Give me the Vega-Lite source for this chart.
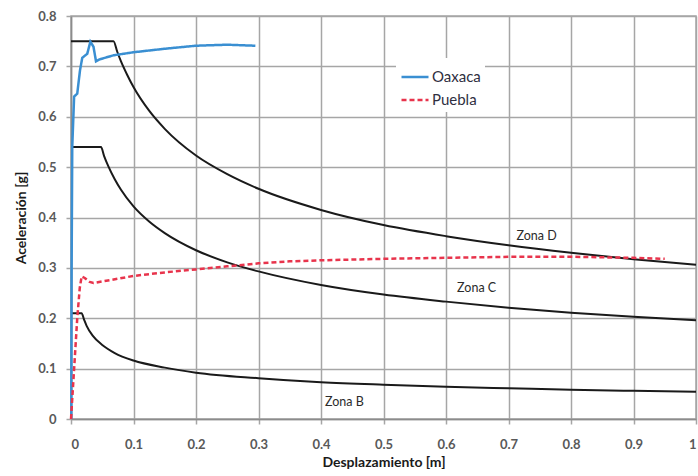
{
  "$schema": "https://vega.github.io/schema/vega-lite/v6.json",
  "width": 625,
  "height": 403,
  "autosize": {"type": "none"},
  "padding": {"left": 71, "top": 16, "right": 2, "bottom": 57},
  "background": "white",
  "datasets": {
    "zones": [
      {"zona": "D", "x": 0, "y": 0.75}, {"zona": "D", "x": 0.068, "y": 0.75}, {"zona": "D", "x": 0.074, "y": 0.729}, {"zona": "D", "x": 0.08, "y": 0.71}, {"zona": "D", "x": 0.09, "y": 0.683}, {"zona": "D", "x": 0.1, "y": 0.659}, {"zona": "D", "x": 0.125, "y": 0.612}, {"zona": "D", "x": 0.15, "y": 0.576}, {"zona": "D", "x": 0.2, "y": 0.523}, {"zona": "D", "x": 0.25, "y": 0.486}, {"zona": "D", "x": 0.3, "y": 0.457}, {"zona": "D", "x": 0.4, "y": 0.415}, {"zona": "D", "x": 0.5, "y": 0.385}, {"zona": "D", "x": 0.6, "y": 0.363}, {"zona": "D", "x": 0.7, "y": 0.345}, {"zona": "D", "x": 0.8, "y": 0.33}, {"zona": "D", "x": 0.9, "y": 0.317}, {"zona": "D", "x": 1, "y": 0.306},
      {"zona": "C", "x": 0, "y": 0.54}, {"zona": "C", "x": 0.048, "y": 0.54}, {"zona": "C", "x": 0.053, "y": 0.522}, {"zona": "C", "x": 0.06, "y": 0.501}, {"zona": "C", "x": 0.07, "y": 0.476}, {"zona": "C", "x": 0.08, "y": 0.455}, {"zona": "C", "x": 0.1, "y": 0.422}, {"zona": "C", "x": 0.125, "y": 0.392}, {"zona": "C", "x": 0.15, "y": 0.369}, {"zona": "C", "x": 0.2, "y": 0.335}, {"zona": "C", "x": 0.25, "y": 0.311}, {"zona": "C", "x": 0.3, "y": 0.293}, {"zona": "C", "x": 0.4, "y": 0.266}, {"zona": "C", "x": 0.5, "y": 0.247}, {"zona": "C", "x": 0.6, "y": 0.233}, {"zona": "C", "x": 0.7, "y": 0.221}, {"zona": "C", "x": 0.8, "y": 0.211}, {"zona": "C", "x": 0.9, "y": 0.203}, {"zona": "C", "x": 1, "y": 0.196},
      {"zona": "B", "x": 0, "y": 0.21}, {"zona": "B", "x": 0.017, "y": 0.21}, {"zona": "B", "x": 0.021, "y": 0.197}, {"zona": "B", "x": 0.025, "y": 0.185}, {"zona": "B", "x": 0.035, "y": 0.165}, {"zona": "B", "x": 0.05, "y": 0.147}, {"zona": "B", "x": 0.07, "y": 0.131}, {"zona": "B", "x": 0.1, "y": 0.116}, {"zona": "B", "x": 0.15, "y": 0.102}, {"zona": "B", "x": 0.2, "y": 0.092}, {"zona": "B", "x": 0.3, "y": 0.081}, {"zona": "B", "x": 0.4, "y": 0.073}, {"zona": "B", "x": 0.5, "y": 0.068}, {"zona": "B", "x": 0.6, "y": 0.064}, {"zona": "B", "x": 0.7, "y": 0.061}, {"zona": "B", "x": 0.8, "y": 0.058}, {"zona": "B", "x": 0.9, "y": 0.056}, {"zona": "B", "x": 1, "y": 0.054}
    ],
    "sismos": [
      {"sismo": "Oaxaca", "x": 0.0005, "y": 0}, {"sismo": "Oaxaca", "x": 0.001, "y": 0.3}, {"sismo": "Oaxaca", "x": 0.002, "y": 0.54}, {"sismo": "Oaxaca", "x": 0.005, "y": 0.64}, {"sismo": "Oaxaca", "x": 0.01, "y": 0.646}, {"sismo": "Oaxaca", "x": 0.0144, "y": 0.692}, {"sismo": "Oaxaca", "x": 0.018, "y": 0.717}, {"sismo": "Oaxaca", "x": 0.026, "y": 0.725}, {"sismo": "Oaxaca", "x": 0.031, "y": 0.749}, {"sismo": "Oaxaca", "x": 0.036, "y": 0.739}, {"sismo": "Oaxaca", "x": 0.04, "y": 0.71}, {"sismo": "Oaxaca", "x": 0.046, "y": 0.714}, {"sismo": "Oaxaca", "x": 0.068, "y": 0.722}, {"sismo": "Oaxaca", "x": 0.1, "y": 0.728}, {"sismo": "Oaxaca", "x": 0.15, "y": 0.735}, {"sismo": "Oaxaca", "x": 0.2, "y": 0.741}, {"sismo": "Oaxaca", "x": 0.25, "y": 0.743}, {"sismo": "Oaxaca", "x": 0.295, "y": 0.741},
      {"sismo": "Puebla", "x": 0, "y": 0}, {"sismo": "Puebla", "x": 0.005, "y": 0.1}, {"sismo": "Puebla", "x": 0.01, "y": 0.2}, {"sismo": "Puebla", "x": 0.014, "y": 0.26}, {"sismo": "Puebla", "x": 0.017, "y": 0.283}, {"sismo": "Puebla", "x": 0.022, "y": 0.28}, {"sismo": "Puebla", "x": 0.03, "y": 0.272}, {"sismo": "Puebla", "x": 0.036, "y": 0.27}, {"sismo": "Puebla", "x": 0.05, "y": 0.273}, {"sismo": "Puebla", "x": 0.1, "y": 0.284}, {"sismo": "Puebla", "x": 0.15, "y": 0.291}, {"sismo": "Puebla", "x": 0.2, "y": 0.297}, {"sismo": "Puebla", "x": 0.25, "y": 0.303}, {"sismo": "Puebla", "x": 0.3, "y": 0.309}, {"sismo": "Puebla", "x": 0.35, "y": 0.313}, {"sismo": "Puebla", "x": 0.4, "y": 0.315}, {"sismo": "Puebla", "x": 0.5, "y": 0.318}, {"sismo": "Puebla", "x": 0.6, "y": 0.32}, {"sismo": "Puebla", "x": 0.7, "y": 0.322}, {"sismo": "Puebla", "x": 0.8, "y": 0.322}, {"sismo": "Puebla", "x": 0.9, "y": 0.32}, {"sismo": "Puebla", "x": 0.95, "y": 0.318}
    ],
    "etiquetas": [
      {"x": 0.745, "y": 0.363, "texto": "Zona D"},
      {"x": 0.649, "y": 0.26, "texto": "Zona C"},
      {"x": 0.4375, "y": 0.034, "texto": "Zona B"}
    ]
  },
  "layer": [
    {
      "data": {"name": "zones"},
      "mark": {"type": "line", "color": "#1a1a1a", "strokeWidth": 2, "interpolate": "monotone"},
      "encoding": {
        "x": {"field": "x", "type": "quantitative", "scale": {"domain": [0, 1], "nice": false}, "axis": {"values": [0, 0.1, 0.2, 0.3, 0.4, 0.5, 0.6, 0.7, 0.8, 0.9, 1], "format": "~g", "title": "Desplazamiento [m]", "titleY": 43, "titleBaseline": "middle"}},
        "y": {"field": "y", "type": "quantitative", "scale": {"domain": [0, 0.8], "nice": false}, "axis": {"values": [0, 0.1, 0.2, 0.3, 0.4, 0.5, 0.6, 0.7, 0.8], "format": "~g", "title": "Aceleración [g]", "titleX": -50, "titleY": 201.5, "titleBaseline": "middle", "titleAlign": "center", "labelPadding": 10}},
        "detail": {"field": "zona", "type": "nominal"}
      }
    },
    {
      "data": {"name": "sismos"},
      "mark": {"type": "line", "strokeWidth": 2.5},
      "encoding": {
        "x": {"field": "x", "type": "quantitative"},
        "y": {"field": "y", "type": "quantitative"},
        "color": {"field": "sismo", "type": "nominal", "title": null, "scale": {"domain": ["Oaxaca", "Puebla"], "range": ["#3a8fd2", "#e8344c"]}},
        "strokeDash": {"field": "sismo", "type": "nominal", "title": null, "scale": {"domain": ["Oaxaca", "Puebla"], "range": [[1, 0], [5, 3]]}}
      }
    },
    {
      "data": {"name": "etiquetas"},
      "mark": {"type": "text", "font": "Lato", "fontSize": 12.5, "color": "#2b2b2b", "align": "center", "baseline": "middle"},
      "encoding": {
        "x": {"field": "x", "type": "quantitative"},
        "y": {"field": "y", "type": "quantitative"},
        "text": {"field": "texto", "type": "nominal"}
      }
    }
  ],
  "config": {
    "view": {"stroke": "#a6a6a6", "strokeWidth": 1.5},
    "axis": {
      "grid": true,
      "gridColor": "#a6a6a6",
      "gridWidth": 1.5,
      "gridOpacity": 1,
      "domainColor": "#8c8c8c",
      "domainWidth": 1.5,
      "tickColor": "#a6a6a6",
      "tickWidth": 1.5,
      "tickSize": 5,
      "labelFont": "Lato",
      "labelFontSize": 13,
      "labelFontWeight": "bold",
      "labelColor": "#595959",
      "titleFont": "Lato",
      "titleFontSize": 14,
      "titleFontWeight": "bold",
      "titleColor": "#1a1a1a"
    },
    "axisX": {"labelPadding": 14},
    "legend": {
      "orient": "none",
      "legendX": 325,
      "legendY": 42,
      "symbolType": "stroke",
      "symbolSize": 729,
      "symbolStrokeWidth": 2.5,
      "labelFont": "Lato",
      "labelFontSize": 15,
      "labelColor": "#2f2f3f",
      "labelOffset": 2,
      "fillColor": "white",
      "padding": 4,
      "rowPadding": 0
    }
  }
}
